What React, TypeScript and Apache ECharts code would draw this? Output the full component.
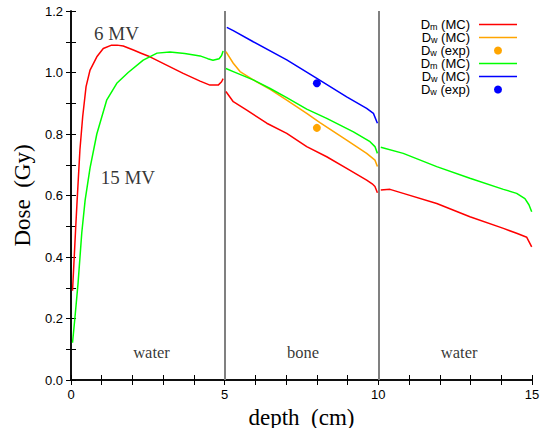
import React, { useEffect, useRef } from "react";
import * as echarts from "echarts";

// depth (cm), dose (Gy)
const redWater1: number[][] = [[0.05,0.29],[0.1,0.39],[0.15,0.49],[0.2,0.585],[0.29,0.748],[0.38,0.856],[0.49,0.954],[0.62,1.008],[0.84,1.051],[1.05,1.078],[1.32,1.089],[1.5,1.089],[1.7,1.086],[2.03,1.073],[2.3,1.062],[2.57,1.051],[3.11,1.024],[3.65,0.997],[4.2,0.972],[4.52,0.959],[4.79,0.959],[4.9,0.97],[4.95,0.98]];
const redBone: number[][] = [[5.04,0.938],[5.28,0.905],[5.72,0.878],[6.37,0.835],[7.02,0.802],[7.67,0.759],[8.32,0.726],[8.97,0.688],[9.62,0.65],[9.8,0.638],[9.89,0.629],[9.97,0.609]];
const redWater2: number[][] = [[10.08,0.618],[10.38,0.62],[10.81,0.607],[11.9,0.574],[12.98,0.531],[14.07,0.493],[14.5,0.477],[14.83,0.464],[14.99,0.433]];

const greenWater1: number[][] = [[0.05,0.121],[0.13,0.205],[0.23,0.315],[0.35,0.478],[0.46,0.585],[0.62,0.69],[0.84,0.8],[1.16,0.91],[1.49,0.965],[1.86,1.0],[2.35,1.04],[2.8,1.063],[3.22,1.067],[3.7,1.062],[4.2,1.054],[4.45,1.045],[4.62,1.04],[4.82,1.045],[4.9,1.055],[4.95,1.07]];
const greenBone: number[][] = [[5.04,1.013],[5.28,1.003],[5.93,0.976],[6.48,0.948],[7.02,0.918],[7.67,0.881],[8.32,0.851],[9.19,0.807],[9.73,0.775],[9.89,0.759],[9.97,0.737]];
const greenWater2: number[][] = [[10.08,0.757],[10.81,0.737],[11.9,0.694],[12.98,0.656],[14.07,0.62],[14.5,0.607],[14.77,0.59],[14.9,0.57],[14.99,0.547]];

const orangeBone: number[][] = [[5.04,1.068],[5.28,1.03],[5.5,1.003],[5.93,0.976],[6.48,0.945],[7.02,0.91],[7.67,0.867],[8.1,0.837],[8.97,0.78],[9.62,0.737],[9.89,0.715],[9.97,0.694]];
const blueBone: number[][] = [[5.07,1.147],[5.28,1.136],[5.93,1.1],[7.02,1.041],[8.0,0.981],[8.97,0.921],[9.62,0.883],[9.84,0.867],[9.97,0.835]];

const orangeExp: number[][] = [[8.0, 0.82]];
const blueExp: number[][] = [[8.0, 0.965]];

const boundaries: number[] = [5, 10];

const energyLabels: (number | string)[][] = [
  [1.48, 1.128, "6 MV"],
  [1.85, 0.66, "15 MV"],
];
const materialLabels: (number | string)[][] = [
  [2.62, 0.091, "water"],
  [7.55, 0.091, "bone"],
  [12.63, 0.091, "water"],
];

const legendNames = ["dm6", "dw6", "dwexp6", "dm15", "dw15", "dwexp15"];
const legendLabels: Record<string, string> = {
  dm6: "D{s|m} (MC){g|}",
  dw6: "D{s|w} (MC){g|}",
  dwexp6: "D{s|w} (exp){g|}",
  dm15: "D{s|m} (MC){g|}",
  dw15: "D{s|w} (MC){g|}",
  dwexp15: "D{s|w} (exp){g|}",
};

const GAP: any = ["-", "-"];
const joinSegs = (...segs: number[][][]) => {
  const out: any[] = [];
  segs.forEach((s, i) => {
    if (i > 0) out.push(GAP);
    s.forEach((p) => out.push(p));
  });
  return out;
};

const SANS = "Liberation Sans, Arial, sans-serif";
const SERIF = "Liberation Serif, Times New Roman, serif";
const LINE_ICON = "path://M0,3.25 H38 V4.75 H0 Z M0,0 H0.01 V8 H0 Z";

export default function App() {
  const ref = useRef<HTMLDivElement>(null);
  useEffect(() => {
    document.body.style.margin = "0";
    if (!ref.current) return;
    const chart = echarts.init(ref.current, undefined, { renderer: "svg" });
    const axisCommon = {
      axisLine: { show: true, lineStyle: { color: "#000", width: 1.5 } },
      axisTick: { show: true, inside: true, length: 5, lineStyle: { color: "#000", width: 1 } },
      splitLine: { show: false },
    };
    const lineSeries = (name: string, color: string, data: any[]) => ({
      name,
      type: "line",
      data,
      symbol: "none",
      showSymbol: false,
      connectNulls: false,
      lineStyle: { color, width: 1.5 },
      itemStyle: { color },
      z: 3,
    });
    const labelSeries = (name: string, data: any[], size: number) => ({
      name,
      type: "scatter",
      data,
      symbolSize: 0,
      silent: true,
      label: {
        show: true,
        position: "inside",
        formatter: (p: any) => p.value[2],
        fontFamily: SERIF,
        fontSize: size,
        color: "#000",
      },
    });
    chart.setOption({
      animation: false,
      grid: { left: 71, right: 20, top: 11, bottom: 48, containLabel: false, outerBoundsMode: "none" },
      xAxis: [
        {
          type: "value",
          min: 0,
          max: 15,
          interval: 1,
          position: "bottom",
          ...axisCommon,
          axisLabel: {
            color: "#000",
            fontFamily: SANS,
            fontSize: 13,
            margin: 8,
            formatter: (v: number) => (v % 5 === 0 ? String(v) : ""),
          },
          name: "depth  (cm)",
          nameLocation: "middle",
          nameGap: 20,
          nameTextStyle: { fontFamily: SERIF, fontSize: 23, lineHeight: 23, color: "#000" },
        },
        {
          type: "value",
          min: 0,
          max: 15,
          interval: 1,
          position: "top",
          ...axisCommon,
          axisLabel: { show: false },
        },
      ],
      yAxis: [
        {
          type: "value",
          min: 0,
          max: 1.2,
          interval: 0.1,
          position: "left",
          ...axisCommon,
          axisLabel: {
            color: "#000",
            fontFamily: SANS,
            fontSize: 13,
            margin: 8,
            formatter: (v: number) => (Math.round(v * 10) % 2 === 0 ? v.toFixed(1) : ""),
          },
          name: "Dose  (Gy)",
          nameLocation: "middle",
          nameGap: 34,
          nameTextStyle: { fontFamily: SERIF, fontSize: 23, color: "#000" },
        },
        {
          type: "value",
          min: 0,
          max: 1.2,
          interval: 0.1,
          position: "right",
          ...axisCommon,
          axisLabel: { show: false },
        },
      ],
      legend: {
        orient: "vertical",
        align: "right",
        right: 30,
        top: 13,
        itemWidth: 38,
        itemHeight: 8,
        itemGap: 0,
        data: legendNames.map((n) => ({
          name: n,
          icon: n.startsWith("dwexp") ? "circle" : LINE_ICON,
        })),
        formatter: (n: string) => legendLabels[n],
        textStyle: {
          fontFamily: SANS,
          fontSize: 13,
          color: "#000",
          lineHeight: 13,
          rich: {
            s: { fontFamily: SANS, fontSize: 9, lineHeight: 10, verticalAlign: "bottom", padding: [3, 0, 0, 0] },
            g: { width: 4 },
          },
        },
      },
      series: [
        {
          ...lineSeries("dm6", "#ff0000", joinSegs(redWater1, redBone, redWater2)),
          markLine: {
            silent: true,
            symbol: ["none", "none"],
            label: { show: false },
            lineStyle: { color: "#808080", width: 2, type: "solid" },
            data: boundaries.map((b) => ({ xAxis: b })),
            z: 2,
          },
        },
        lineSeries("dw6", "#ffa500", orangeBone),
        {
          name: "dwexp6",
          type: "scatter",
          data: orangeExp,
          symbol: "circle",
          symbolSize: 8,
          itemStyle: { color: "#ffa500", opacity: 1 },
          z: 4,
        },
        lineSeries("dm15", "#00ff00", joinSegs(greenWater1, greenBone, greenWater2)),
        lineSeries("dw15", "#0000ff", blueBone),
        {
          name: "dwexp15",
          type: "scatter",
          data: blueExp,
          symbol: "circle",
          symbolSize: 8,
          itemStyle: { color: "#0000ff", opacity: 1 },
          z: 4,
        },
        labelSeries("energyLabels", energyLabels, 19),
        labelSeries("materialLabels", materialLabels, 16.5),
      ],
    });
    return () => chart.dispose();
  }, []);
  return <div ref={ref} style={{ width: 552, height: 428 }} />;
}
